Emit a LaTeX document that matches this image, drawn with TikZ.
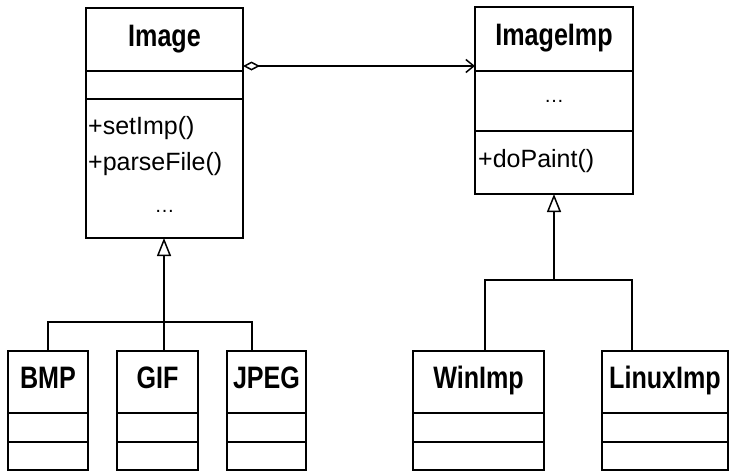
\documentclass[tikz,border=0pt]{standalone}
\usepackage{fontspec}
\setmainfont{Liberation Sans}
\newfontfamily\namefont{Liberation Sans}[FakeStretch=0.81]
\usetikzlibrary{positioning,arrows.meta}

\tikzset{
  part/.style={draw, line width=1.5pt, minimum width=#1, inner sep=0pt, outer sep=0pt},
  namepart/.style={part=#1, minimum height=62pt, text height=23pt, text depth=10pt,
    font=\namefont\bfseries\fontsize{31}{31}\selectfont},
  member/.style={inner sep=0pt, align=left, font=\fontsize{25}{36}\selectfont},
  dots/.style={inner sep=0pt, font=\fontsize{20}{20}\selectfont},
  line/.style={line width=1.5pt},
  generalize/.style={line, -{Triangle[open, length=18pt, width=14pt]}},
  assoc/.style={line, {Diamond[open, length=17pt, width=9pt]}-{Straight Barb[length=8pt, width=13pt]}}
}

\begin{document}
\begin{tikzpicture}[x=1pt,y=-1pt]
  \useasboundingbox (0,0) rectangle (733,474);

  % Image
  \node[namepart=157pt, minimum height=63pt, anchor=north west] (image) at (86,8) {Image};
  \node[part=157pt, minimum height=28pt, below=0pt of image] (image-attr) {};
  \node[part=157pt, minimum height=139pt, below=0pt of image-attr] (image-ops) {};
  \node[member, below right=17pt and 2pt of image-ops.north west] (image-members) {+setImp()\\+parseFile()};
  \node[dots, below=42pt of image-ops.center] (image-dots) {\ldots};

  % ImageImp
  \node[namepart=158pt, minimum height=64pt, anchor=north west] (imageimp) at (475,7) {ImageImp};
  \node[part=158pt, minimum height=60pt, below=0pt of imageimp, dots] (imageimp-attr) {\ldots};
  \node[part=158pt, minimum height=63pt, below=0pt of imageimp-attr] (imageimp-ops) {};
  \node[member, below right=18pt and 3pt of imageimp-ops.north west] (imageimp-members) {+doPaint()};

  % subclasses of Image
  \node[namepart=80pt, anchor=north west] (bmp) at (8,351) {BMP};
  \node[part=80pt, minimum height=29pt, below=0pt of bmp] (bmp-attr) {};
  \node[part=80pt, minimum height=28pt, below=0pt of bmp-attr] (bmp-ops) {};

  \node[namepart=81pt, anchor=north west] (gif) at (117,351) {GIF};
  \node[part=81pt, minimum height=29pt, below=0pt of gif] (gif-attr) {};
  \node[part=81pt, minimum height=28pt, below=0pt of gif-attr] (gif-ops) {};

  \node[namepart=79pt, anchor=north west] (jpeg) at (227,351) {JPEG};
  \node[part=79pt, minimum height=29pt, below=0pt of jpeg] (jpeg-attr) {};
  \node[part=79pt, minimum height=28pt, below=0pt of jpeg-attr] (jpeg-ops) {};

  % subclasses of ImageImp
  \node[namepart=131pt, anchor=north west] (winimp) at (413,351) {WinImp};
  \node[part=131pt, minimum height=29pt, below=0pt of winimp] (winimp-attr) {};
  \node[part=131pt, minimum height=28pt, below=0pt of winimp-attr] (winimp-ops) {};

  \node[namepart=126pt, anchor=north west] (linuximp) at (602,351) {LinuxImp};
  \node[part=126pt, minimum height=29pt, below=0pt of linuximp] (linuximp-attr) {};
  \node[part=126pt, minimum height=28pt, below=0pt of linuximp-attr] (linuximp-ops) {};

  % association
  \draw[assoc] ([yshift=5pt]image.south east) -- ([yshift=5pt]image.south east -| imageimp.west);

  % inheritance
  \coordinate[below=84pt of image-ops.south, xshift=-0.5pt] (image-hub);
  \draw[generalize] (image-hub) -- (image-hub |- image-ops.south);
  \draw[line] (bmp.north) |- (image-hub) -| ([xshift=-14.5pt]jpeg.north);
  \draw[line] (image-hub) -- (image-hub |- gif.north);

  \coordinate[below=86pt of imageimp-ops.south] (imageimp-hub);
  \draw[generalize] (imageimp-hub) -- (imageimp-ops.south);
  \draw[line] ([xshift=6.5pt]winimp.north) |- (imageimp-hub) -| ([xshift=-33pt]linuximp.north);
\end{tikzpicture}
\end{document}
